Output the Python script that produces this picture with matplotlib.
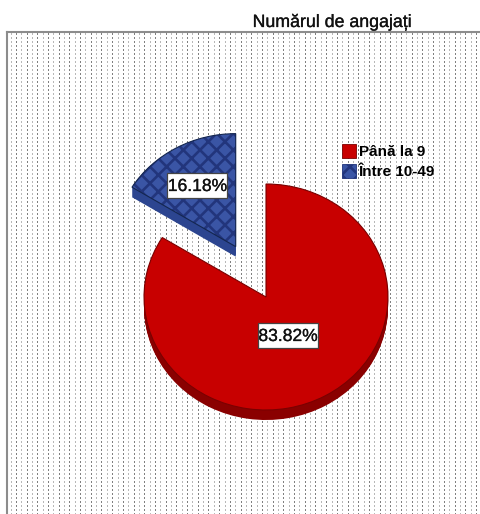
"""Pie chart: Numărul de angajați."""
import numpy as np
import matplotlib
matplotlib.use("Agg")
import matplotlib.pyplot as plt
import matplotlib.patheffects as pe
from matplotlib.patches import Patch, Rectangle

LABELS = ["Până la 9", "Între 10-49"]
VALUES = [83.82, 16.18]
TITLE = "Numărul de angajați"

COLORS = ["#c80000", "#3a55a5"]
SIDE_COLORS = ["#8a0000", "#2c4590"]
EXPLODE = [0, 0.51]

W, H = 481, 514
RX, RY = 122, 113   # pie radius in pixels, flattened
CX, CY = 266, 297
DEPTH = 10

plt.rcParams["font.family"] = ["Liberation Sans", "DejaVu Sans"]
plt.rcParams["hatch.linewidth"] = 1.9

fig = plt.figure(figsize=(W / 100, H / 100), dpi=100)
heavy = [pe.withStroke(linewidth=0.2, foreground="#111111")]

# dotted plot background
bg = fig.add_axes([7 / W, 0, 1 - 7 / W, 1 - 32 / H])
tile = np.ones((H - 32, W - 7))
for i, x in enumerate(np.arange(4, W - 7, 5.35).astype(int)):
    shade = 0.5 if i % 2 else 0.72
    tile[1::4, x] = shade
    tile[2::4, x] = shade
bg.imshow(tile, cmap="gray", vmin=0, vmax=1, aspect="auto", interpolation="bilinear")
bg.set_xticks([])
bg.set_yticks([])
for side in ["right", "bottom"]:
    bg.spines[side].set_visible(False)
for side in ["left", "top"]:
    bg.spines[side].set_color("#8c8c8c")
    bg.spines[side].set_linewidth(1.5)

# one data unit = pie radius, so the pie comes out as an ellipse
ax = fig.add_axes([0, 0, 1, 1])
ax.patch.set_alpha(0)

# extruded side: stacked copies shifted downward
for d in range(DEPTH, 0, -1):
    ax.pie(VALUES, explode=EXPLODE, colors=SIDE_COLORS, startangle=90, counterclock=False,
           center=(CX / RX, (H - CY - d) / RY), radius=1, normalize=True,
           wedgeprops={"linewidth": 0})

wedges, _ = ax.pie(VALUES, explode=EXPLODE, colors=COLORS, startangle=90, counterclock=False,
                   center=(CX / RX, (H - CY) / RY), radius=1, normalize=True,
                   wedgeprops={"linewidth": 0})
wedges[1].set_edgecolor("#22357c")
wedges[1].set_hatch("xx")

# dark outlines on top of the faces
outlines, _ = ax.pie(VALUES, explode=EXPLODE, colors=["none", "none"], startangle=90, counterclock=False,
                     center=(CX / RX, (H - CY) / RY), radius=1, normalize=True,
                     wedgeprops={"linewidth": 0.8, "edgecolor": "#7a0000"})
outlines[1].set_edgecolor("#14264f")

ax.set_xlim(0, W / RX)
ax.set_ylim(0, H / RY)
ax.set_aspect("auto")
ax.axis("off")

# percentage labels
label_pos = [(288, 335), (197.5, 185)]
box_w, box_h = 60, 25
for val, (px, py) in zip(VALUES, label_pos):
    ax.add_patch(Rectangle(((px - box_w / 2) / RX, (H - py - box_h / 2) / RY), box_w / RX, box_h / RY,
                           fc="white", ec="#444444", lw=0.9, zorder=5))
    ax.text(px / RX, (H - py) / RY, f"{val:.2f}%", fontsize=12.6, ha="center", va="center_baseline",
            color="#111111", zorder=6, path_effects=heavy)

fig.text(332 / W, 1 - 27 / H, TITLE, fontsize=12.8, ha="center", va="baseline", color="#111111",
         path_effects=heavy)

handles = [Patch(facecolor=COLORS[0], edgecolor="#7a0000", linewidth=0.6),
           Patch(facecolor=COLORS[1], edgecolor="#22357c", hatch="xx", linewidth=0.6)]
fig.legend(handles, LABELS, loc="upper left", bbox_to_anchor=(342 / W, 1 - 144 / H),
           frameon=False, handlelength=0.92, handleheight=1.0,
           handletextpad=0.2, labelspacing=0.35, borderpad=0, borderaxespad=0,
           prop={"weight": "bold", "size": 11})

fig.savefig("out.png", dpi=100)
